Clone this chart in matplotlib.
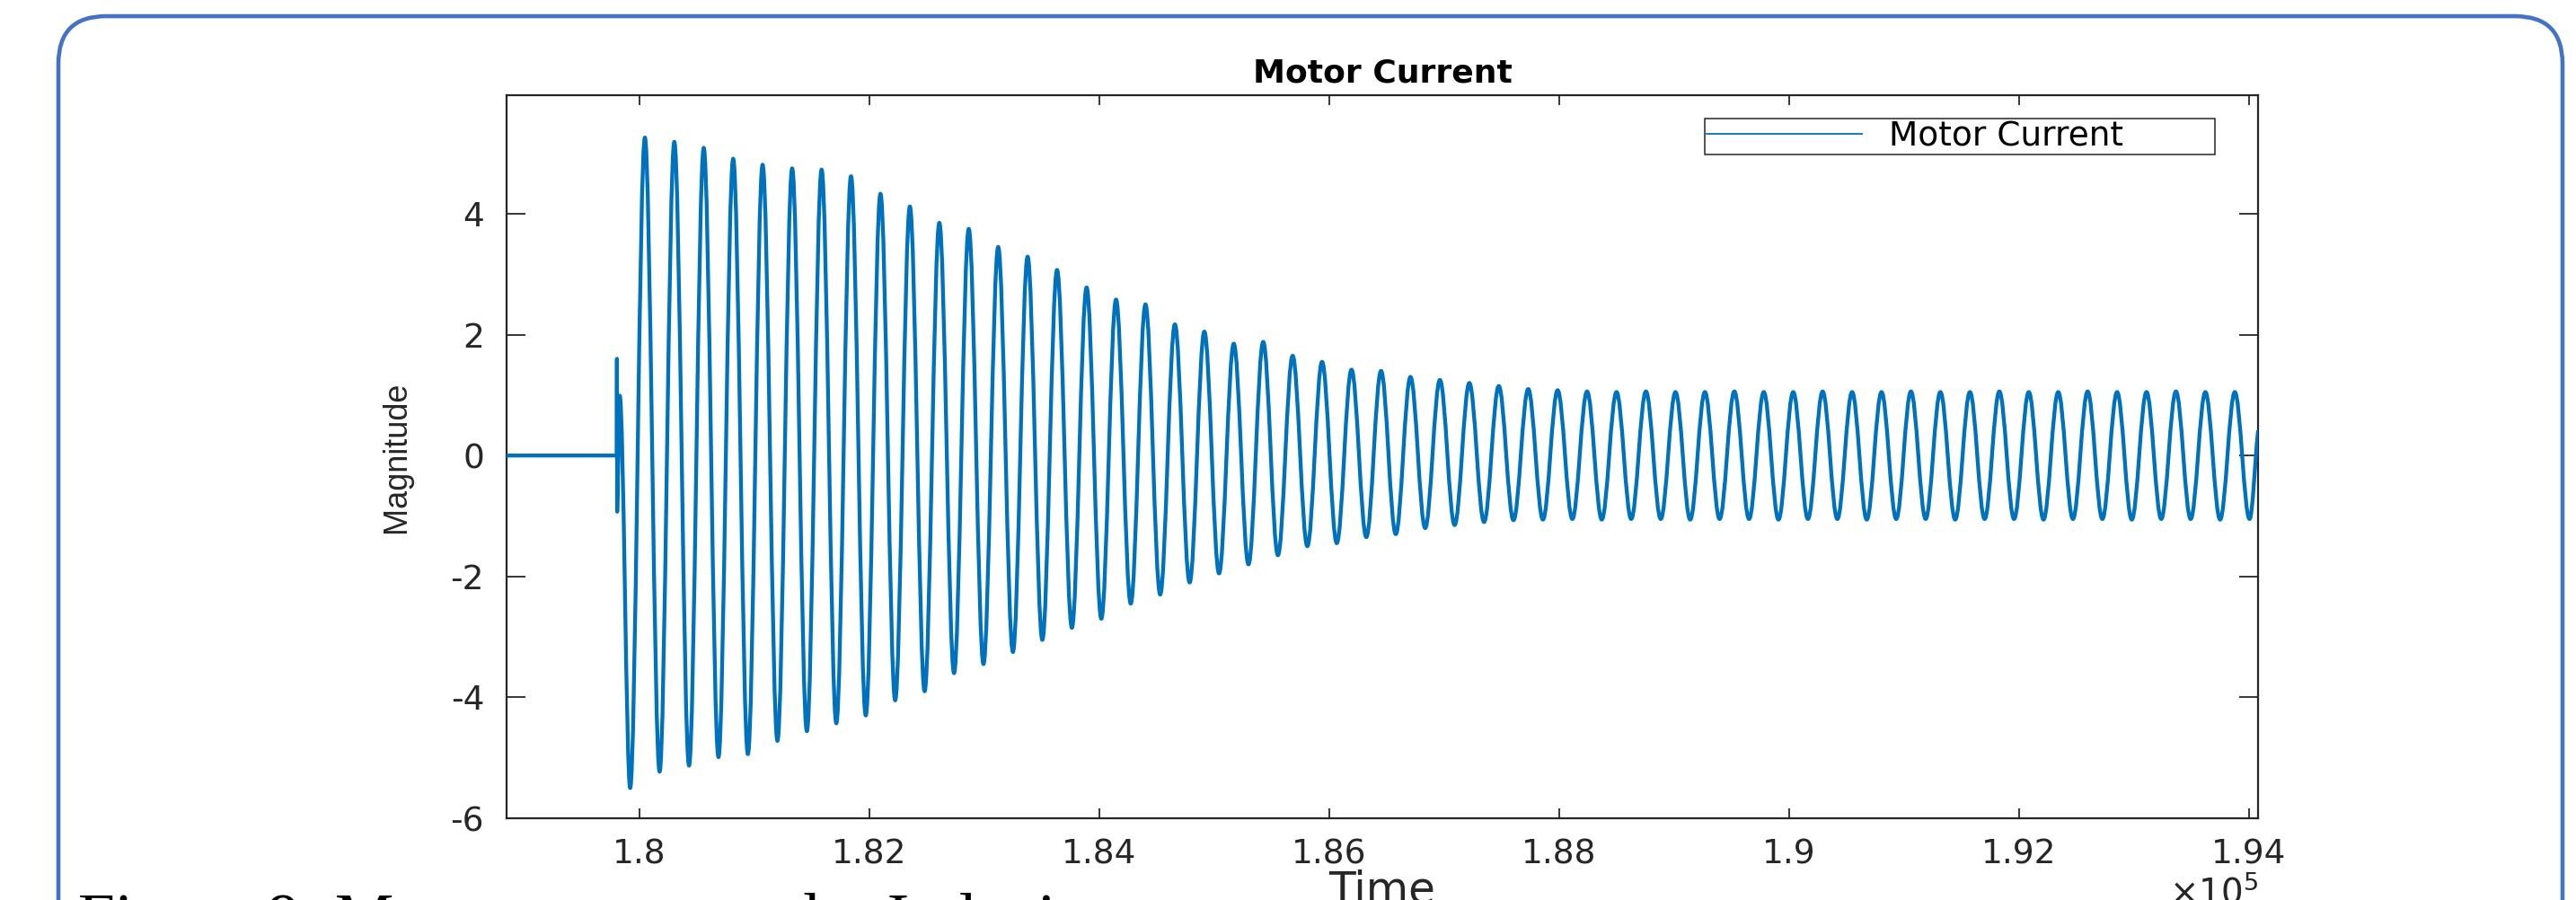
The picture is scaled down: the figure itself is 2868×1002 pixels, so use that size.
import matplotlib
matplotlib.use("Agg")
import matplotlib.pyplot as plt
from matplotlib.patches import FancyBboxPatch, PathPatch
from matplotlib.path import Path
from matplotlib.lines import Line2D
from matplotlib.ticker import FixedLocator, FuncFormatter
from matplotlib import font_manager

# ---------------- data ----------------
onset_time = [178846, 179804, 179806, 179808, 179830]
onset_value = [0.0, 0.0, 1.60, -0.93, 0.99]

trough_time = [179921, 180177, 180433, 180689, 180945, 181202, 181458, 181714,
               181970, 182226, 182482, 182738, 182994, 183250, 183506, 183763,
               184019, 184275, 184531, 184787, 185043, 185299, 185555, 185811,
               186067, 186324, 186580, 186836, 187092, 187348, 187604, 187860,
               188116, 188372, 188628, 188885, 189141, 189397, 189653, 189909,
               190165, 190421, 190677, 190933, 191189, 191446, 191702, 191958,
               192214, 192470, 192726, 192982, 193238, 193494, 193750, 194006]
trough_value = [-5.50, -5.23, -5.13, -4.99, -4.94, -4.72, -4.56, -4.43,
                -4.30, -4.05, -3.90, -3.60, -3.45, -3.25, -3.05, -2.85,
                -2.70, -2.45, -2.30, -2.10, -1.95, -1.80, -1.65, -1.50,
                -1.45, -1.35, -1.30, -1.20, -1.15, -1.10, -1.07, -1.06,
                -1.05, -1.06, -1.05, -1.05, -1.06, -1.05, -1.05, -1.06,
                -1.05, -1.05, -1.06, -1.05, -1.05, -1.06, -1.05, -1.05,
                -1.06, -1.05, -1.05, -1.06, -1.05, -1.05, -1.06, -1.05]

peak_time = [180049, 180305, 180561, 180817, 181073, 181330, 181586, 181842,
             182098, 182354, 182610, 182866, 183122, 183378, 183634, 183891,
             184147, 184403, 184659, 184915, 185171, 185427, 185683, 185939,
             186195, 186452, 186708, 186964, 187220, 187476, 187732, 187988,
             188244, 188500, 188756, 189013, 189269, 189525, 189781, 190037,
             190293, 190549, 190805, 191061, 191317, 191574, 191830, 192086,
             192342, 192598, 192854, 193110, 193366, 193622, 193878]
peak_value = [5.26, 5.19, 5.09, 4.91, 4.81, 4.75, 4.73, 4.62,
              4.33, 4.12, 3.85, 3.75, 3.45, 3.29, 3.07, 2.78,
              2.58, 2.50, 2.17, 2.05, 1.85, 1.88, 1.65, 1.55,
              1.42, 1.40, 1.30, 1.25, 1.20, 1.15, 1.10, 1.08,
              1.06, 1.05, 1.06, 1.05, 1.05, 1.06, 1.05, 1.05,
              1.06, 1.05, 1.05, 1.06, 1.05, 1.05, 1.06, 1.05,
              1.05, 1.06, 1.05, 1.05, 1.06, 1.05, 1.05]

end_time = [194080]
end_value = [0.40]

x_ticks = [180000, 182000, 184000, 186000, 188000, 190000, 192000, 194000]
y_ticks = [-6, -4, -2, 0, 2, 4]
x_limits = (178846, 194080)
y_limits = (-6.0, 5.96)

title_text = "Motor Current"
legend_text = "Motor Current"
x_label = "Time"
y_label = "Magnitude"
offset_label = r"$\times10^{5}$"
caption_text = "Figure 9: Motor current under Inducing"

# ---------------- build the curve path (smooth half-waves between extremes) ----
ext_t, ext_v = [], []
for i in range(len(peak_time)):
    ext_t += [trough_time[i], peak_time[i]]
    ext_v += [trough_value[i], peak_value[i]]
ext_t.append(trough_time[-1])
ext_v.append(trough_value[-1])

verts = [(onset_time[0], onset_value[0])]
codes = [Path.MOVETO]
for tt, vv in zip(onset_time[1:], onset_value[1:]):
    verts.append((tt, vv))
    codes.append(Path.LINETO)

k = 0.36
prev_t, prev_v = onset_time[-1], onset_value[-1]
for tt, vv in zip(ext_t, ext_v):
    dt = tt - prev_t
    verts += [(prev_t + k * dt, prev_v), (tt - k * dt, vv), (tt, vv)]
    codes += [Path.CURVE4] * 3
    prev_t, prev_v = tt, vv
for tt, vv in zip(end_time, end_value):
    dt = tt - prev_t
    verts += [(prev_t + k * dt, prev_v), (tt - k * dt, vv - 0.3 * (vv - prev_v)), (tt, vv)]
    codes += [Path.CURVE4] * 3
    prev_t, prev_v = tt, vv

# ---------------- figure ----------------
W, H = 2868, 1002
fig = plt.figure(figsize=(W / 100, H / 100), dpi=100)
fig.patch.set_facecolor("white")

ax = fig.add_axes([564 / W, 1 - 911 / H, (2514 - 564) / W, (911 - 106) / H])

line_color = "#0072BD"
axis_color = "#262626"
curve = PathPatch(Path(verts, codes), fill=False, edgecolor=line_color,
                  linewidth=3.1, joinstyle="round", capstyle="round", zorder=3)
ax.add_patch(curve)

ax.set_xlim(*x_limits)
ax.set_ylim(*y_limits)
ax.xaxis.set_major_locator(FixedLocator(x_ticks))
ax.yaxis.set_major_locator(FixedLocator(y_ticks))
ax.xaxis.set_major_formatter(FuncFormatter(lambda val, pos: f"{val / 1e5:g}"))
ax.yaxis.set_major_formatter(FuncFormatter(lambda val, pos: f"{val:g}"))

for s in ax.spines.values():
    s.set_color(axis_color)
    s.set_linewidth(1.6)

tick_font = "DejaVu Sans"
ax.tick_params(axis="both", direction="in", top=True, right=True,
               color=axis_color, labelcolor=axis_color, width=1.3)
ax.tick_params(axis="x", length=8, pad=16, labelsize=27)
ax.tick_params(axis="y", length=15, pad=18, labelsize=27)
for lab in ax.get_xticklabels() + ax.get_yticklabels():
    lab.set_family(tick_font)

ax.set_title(title_text, fontsize=26, fontweight="bold", family="DejaVu Sans",
             pad=10.5, color="black")

def has_font(name):
    try:
        font_manager.findfont(font_manager.FontProperties(family=name),
                              fallback_to_default=False)
        return True
    except Exception:
        return False

if has_font("Liberation Sans Narrow"):
    ylab_family, ylab_size = "Liberation Sans Narrow", 31.5
else:
    ylab_family, ylab_size = "Liberation Sans", 26
ax.set_ylabel(y_label, family=ylab_family, fontsize=ylab_size, color=axis_color,
              va="center", ha="center")
ax.yaxis.set_label_coords((441 - 564) / (2514 - 564), 0.5)

ax.set_xlabel(x_label, family="DejaVu Sans", fontsize=35, color=axis_color,
              va="top", ha="center")
ax.xaxis.set_label_coords(0.5, (911 - 968) / (911 - 106))

ax.text(1.0, (911 - 974) / (911 - 106), offset_label, transform=ax.transAxes,
        ha="right", va="top", fontsize=28, color=axis_color, family="DejaVu Sans")

# legend
proxy = Line2D([], [], color=line_color, lw=1.3)
leg_fs = 27
leg = ax.legend([proxy], [legend_text], loc="upper left", mode="expand",
                bbox_to_anchor=(1898 / W, 1 - 179 / H, 568 / W, 47 / H),
                bbox_transform=fig.transFigure, borderaxespad=0,
                prop={"family": "DejaVu Sans", "size": leg_fs},
                handlelength=4.6, handletextpad=0.8, borderpad=0.06,
                fancybox=False, framealpha=1, edgecolor=axis_color)
leg.get_frame().set_linewidth(1.1)
for txt in leg.get_texts():
    txt.set_color("black")

# rounded blue frame around the figure
frame = FancyBboxPatch((0.65, -1.0), 28.53 - 0.65, 9.84 + 1.0,
                       boxstyle="round,pad=0,rounding_size=0.53",
                       transform=fig.dpi_scale_trans, fill=False,
                       edgecolor="#4472C4", linewidth=3.3, clip_on=False)
fig.add_artist(frame)

# caption (cut off at the bottom edge, as in the reference)
fig.text(87 / W, (H - 1046) / H, caption_text, family="Liberation Serif",
         fontsize=53, ha="left", va="baseline", color="black")

fig.savefig("out.png", dpi=100)
